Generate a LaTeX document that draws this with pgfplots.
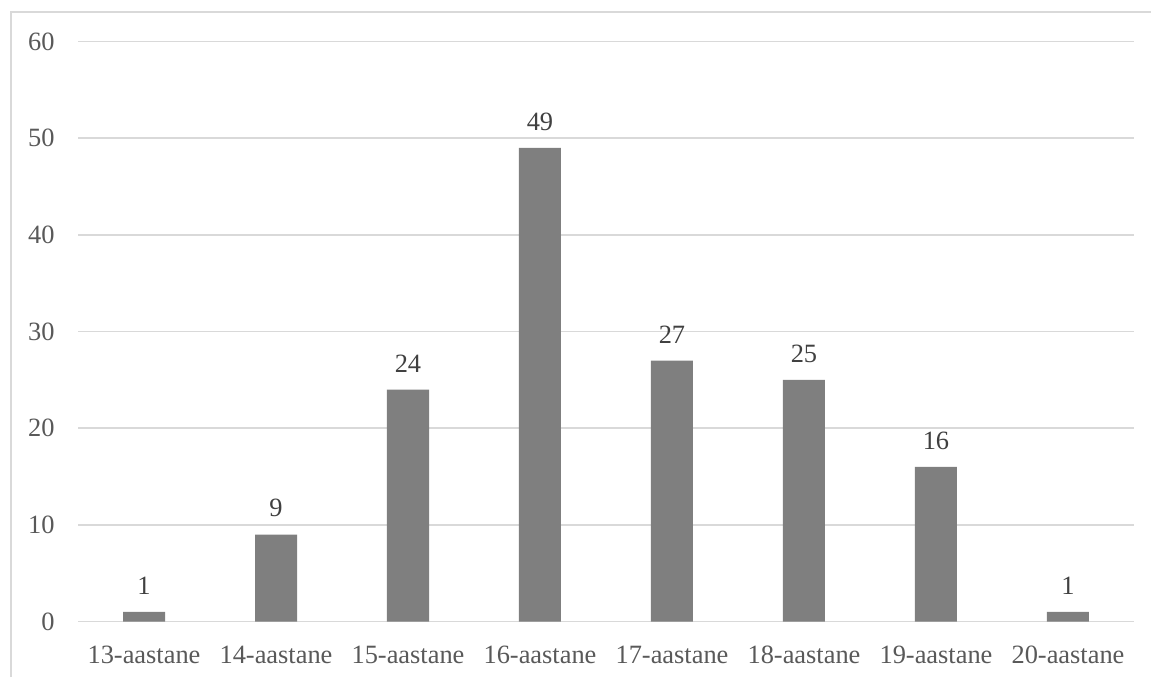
\documentclass[border=0pt]{standalone}
\usepackage{fontspec}
\setmainfont{Liberation Serif}
\usepackage{pgfplots}
\pgfplotsset{compat=1.18}
\definecolor{barfill}{HTML}{7F7F7F}
\definecolor{gridgray}{HTML}{D9D9D9}
\definecolor{ticktext}{HTML}{595959}
\definecolor{valtext}{HTML}{404040}
\begin{document}
\begin{tikzpicture}[font=\fontsize{13.2}{15}\selectfont]
  \useasboundingbox (0,0) rectangle (575.5pt,338.5pt);
  % chart frame (only left and top edges fall inside the picture)
  \draw[gridgray, line width=0.75pt] (5.5pt,0) -- (5.5pt,332.5pt) -- (575.5pt,332.5pt);
  \begin{axis}[
    at={(39pt,27.75pt)}, anchor=south west,
    scale only axis,
    width=528pt, height=290pt,
    ybar, bar width=21pt,
    xmin=-0.5, xmax=7.5,
    ymin=0, ymax=60,
    enlargelimits=false,
    xtick=data,
    xticklabels={13-aastane,14-aastane,15-aastane,16-aastane,17-aastane,18-aastane,19-aastane,20-aastane},
    ytick={0,10,...,60},
    major tick length=0pt,
    axis line style={draw=none},
    ymajorgrids,
    grid style={gridgray, line width=0.8pt},
    /pgf/number format/assume math mode=true,
    ticklabel style={text=ticktext},
    yticklabel style={inner sep=0pt, anchor=east, xshift=-11.5pt},
    xticklabel style={inner sep=0pt, anchor=north, yshift=-12pt},
    nodes near coords,
    every node near coord/.append style={text=valtext, inner sep=0pt, anchor=south, yshift=8.5pt},
    clip=false,
  ]
  \addplot[fill=barfill, draw=none] coordinates {(0,1)(1,9)(2,24)(3,49)(4,27)(5,25)(6,16)(7,1)};
  \end{axis}
\end{tikzpicture}
\end{document}
